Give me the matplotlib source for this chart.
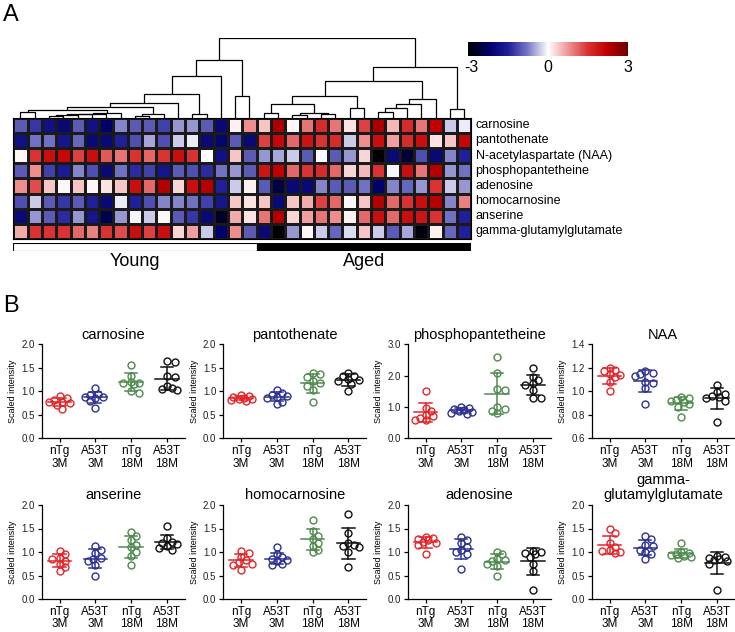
import numpy as np
import matplotlib
matplotlib.use('Agg')
import matplotlib.pyplot as plt
from matplotlib.colors import LinearSegmentedColormap
from matplotlib.patches import Rectangle

plt.rcParams['font.family'] = ['Liberation Sans', 'DejaVu Sans']

# ---------------- data: heatmap ----------------
metabolites = ['carnosine', 'pantothenate', 'N-acetylaspartate (NAA)', 'phosphopantetheine',
               'adenosine', 'homocarnosine', 'anserine', 'gamma-glutamylglutamate']

carnosine_z = [-1.0, -1.3, -1.8, -2.0, -1.0, -1.8, -2.2, -0.7, -1.0, -1.0, -1.2, -0.6, -0.6, -1.0, -2.0, 0.1, 0.8,
               0.4, 2.4, 0.05, 1.0, 1.6, 1.0, 0.2, 1.4, 2.4, 0.5, 1.6, 1.0, 2.2, -0.3, -0.1]
pantothenate_z = [-1.8, -0.8, -0.8, -1.7, -0.9, -2.0, -2.0, -1.5, -1.1, -0.5, -1.1, -0.3, -0.1, -2.0, -2.1, -1.0, -2.0,
                  1.4, 2.1, 1.1, 1.9, 1.5, 1.6, -0.3, 0.8, 2.0, 0.7, 1.6, 2.0, 0.2, 0.4, 2.1]
naa_z = [0.05, 1.5, 2.0, 2.1, 1.4, 2.0, 1.2, 1.0, 1.5, 1.1, 1.5, 2.0, 1.5, 0.0, -1.8, 0.4, -1.0,
         -0.6, -0.5, -0.3, -1.0, 0.0, -1.0, -0.6, 0.3, -3.0, -2.0, -2.6, -1.1, -2.0, -0.7, -1.5]
phospho_z = [-1.0, 0.8, -1.2, -1.6, -0.7, -1.1, -2.0, -0.8, -1.4, -1.2, -1.7, -1.0, -1.1, -1.4, -0.8, -0.6, -1.0,
             1.9, 2.2, 1.1, 1.5, 1.6, 1.1, 0.3, 0.5, 1.5, -0.05, 2.0, 1.0, 2.3, -0.6, -0.8]
adenosine_z = [0.8, 1.3, 0.4, 0.05, 0.4, 0.05, 0.2, 0.4, 2.0, 1.1, 2.3, 0.3, 2.0, 2.3, -1.5, -0.3, 0.1,
               -1.0, -2.5, -2.0, -2.0, -0.7, -1.0, -1.0, -0.8, -2.2, -0.7, -0.9, -0.6, 1.5, -0.3, -0.6]
homocarnosine_z = [-1.1, -0.3, -1.0, -1.3, -1.0, -1.5, -2.0, -0.1, -1.5, -1.1, -0.7, -0.7, -0.8, -1.2, -1.7, 0.4, 0.2,
                   0.4, -2.0, 0.4, 0.6, 1.4, 1.1, 0.05, 0.4, 2.3, 1.1, 1.5, 2.0, 2.3, -0.7, 0.9]
anserine_z = [-2.0, -0.6, -1.0, -1.4, -0.6, -1.7, -2.4, -0.6, -0.05, -0.3, 0.05, -1.0, -1.3, -2.0, -2.7, 0.6, 0.2,
              1.0, 2.3, 0.3, 0.7, 1.0, 0.8, 0.1, 1.1, 2.0, 1.1, 2.0, 1.9, 1.5, -0.8, -1.5]
gamma_z = [0.6, 1.5, 1.5, 1.5, 1.1, 0.9, 1.5, 1.3, 2.0, 1.4, 2.0, 0.3, 0.7, -0.3, -2.2, 0.8, -1.0,
           -2.0, -3.0, -0.6, 0.05, -0.3, -0.9, -0.2, 0.4, -0.3, -1.0, -0.5, -2.9, 0.1, -0.9, -1.5]

# dendrogram merges: (left, right, height); leaves are column indices
young_y = (((((2, 3, 2.0), 4, 2.5), 5, 3.5), 6, 4.2), 7, 5.0)
young_b = (((0, 1, 5.7), young_y, 7.7), ((8, 9, 2.0), 10, 3.5), 11.0)
young_l = ((((young_b, 11, 14.4), (12, 13, 4.0), 23.4), 14, 42.0), (15, 16, 21.4), 57.4)
aged_a = (((17, 18, 4.4), ((19, 20, 3.0), (21, 22, 3.5), 5.0), 13.4), (23, 24, 9.4), 21.7)
aged_b = ((((25, 26, 5.4), 27, 9.4), 28, 13.4), 29, 19.0)
aged_r = ((aged_a, aged_b, 37.0), (30, 31, 8.7), 50.4)
dendro_tree = (young_l, aged_r, 79.4)

group_bar_labels = ['Young', 'Aged']
group_bar_counts = [17, 15]
cbar_ticks = [-3, 0, 3]

# ---------------- data: scatter panels ----------------
groups = ['nTg\n3M', 'A53T\n3M', 'nTg\n18M', 'A53T\n18M']
panel_titles = ['carnosine', 'pantothenate', 'phosphopantetheine', 'NAA',
                'anserine', 'homocarnosine', 'adenosine', 'gamma-\nglutamylglutamate']

carnosine_vals = [[0.89, 0.86, 0.82, 0.78, 0.78, 0.75, 0.70, 0.63],
                  [1.06, 0.95, 0.92, 0.88, 0.87, 0.85, 0.80, 0.65],
                  [1.57, 1.32, 1.20, 1.18, 1.17, 1.16, 1.00, 0.97],
                  [1.64, 1.63, 1.32, 1.30, 1.12, 1.06, 1.05, 1.03]]
pantothenate_vals = [[0.92, 0.90, 0.88, 0.86, 0.84, 0.83, 0.81, 0.80],
                     [1.03, 0.97, 0.93, 0.90, 0.88, 0.86, 0.78, 0.73],
                     [1.39, 1.37, 1.30, 1.22, 1.18, 1.12, 1.02, 0.78],
                     [1.38, 1.33, 1.32, 1.26, 1.25, 1.22, 1.15, 1.00]]
phospho_vals = [[1.50, 0.98, 0.88, 0.75, 0.70, 0.65, 0.60, 0.57],
                [1.00, 0.98, 0.95, 0.90, 0.87, 0.85, 0.80, 0.78],
                [2.58, 2.08, 1.58, 1.55, 1.00, 0.95, 0.88, 0.80],
                [2.25, 1.95, 1.85, 1.75, 1.70, 1.55, 1.30, 1.30]]
naa_vals = [[1.20, 1.18, 1.17, 1.15, 1.14, 1.12, 1.08, 1.00],
            [1.17, 1.16, 1.15, 1.13, 1.08, 1.07, 1.03, 0.89],
            [0.95, 0.94, 0.93, 0.92, 0.91, 0.89, 0.87, 0.78],
            [1.05, 0.99, 0.98, 0.96, 0.95, 0.94, 0.92, 0.74]]
anserine_vals = [[1.02, 0.95, 0.88, 0.85, 0.80, 0.75, 0.68, 0.60],
                 [1.12, 1.05, 0.97, 0.88, 0.85, 0.80, 0.72, 0.50],
                 [1.43, 1.35, 1.25, 1.15, 1.10, 1.00, 0.92, 0.72],
                 [1.55, 1.30, 1.22, 1.20, 1.18, 1.12, 1.08, 1.05]]
homocarnosine_vals = [[1.02, 0.98, 0.90, 0.82, 0.78, 0.75, 0.72, 0.62],
                      [1.10, 0.95, 0.90, 0.85, 0.82, 0.80, 0.75, 0.72],
                      [1.68, 1.45, 1.35, 1.28, 1.20, 1.12, 1.05, 1.00],
                      [1.80, 1.40, 1.20, 1.15, 1.12, 1.10, 1.00, 0.68]]
adenosine_vals = [[1.32, 1.30, 1.28, 1.25, 1.22, 1.20, 1.15, 0.95],
                  [1.32, 1.25, 1.20, 1.10, 1.05, 1.00, 0.95, 0.63],
                  [1.00, 0.95, 0.85, 0.82, 0.80, 0.75, 0.70, 0.50],
                  [1.02, 1.00, 0.98, 0.95, 0.90, 0.75, 0.60, 0.20]]
gamma_vals = [[1.48, 1.40, 1.20, 1.10, 1.05, 1.02, 1.00, 0.98],
              [1.35, 1.28, 1.15, 1.12, 1.05, 1.00, 0.95, 0.85],
              [1.20, 1.00, 0.98, 0.95, 0.93, 0.92, 0.90, 0.88],
              [0.92, 0.90, 0.88, 0.85, 0.82, 0.80, 0.75, 0.20]]

panel_ylims = [(0, 2.0), (0, 2.0), (0, 3.0), (0.6, 1.4), (0, 2.0), (0, 2.0), (0, 2.0), (0, 2.0)]
panel_yticks = [np.arange(0, 2.01, 0.5), np.arange(0, 2.01, 0.5), np.arange(0, 3.01, 1.0),
                np.arange(0.6, 1.41, 0.2), np.arange(0, 2.01, 0.5), np.arange(0, 2.01, 0.5),
                np.arange(0, 2.01, 0.5), np.arange(0, 2.01, 0.5)]

# ---------------- figure ----------------
W, H = 735, 632
fig = plt.figure(figsize=(W / 100, H / 100), dpi=100)


def rect(x0, y0, x1, y1):
    return [x0 / W, 1 - y1 / H, (x1 - x0) / W, (y1 - y0) / H]


cmap = LinearSegmentedColormap.from_list('bwr_k', [
    (0.0, (0, 0, 0)),
    (0.8 / 6, (0.0, 0.0, 0.42)),
    (1.5 / 6, (0.12, 0.12, 0.6)),
    (2.2 / 6, (0.45, 0.45, 0.76)),
    (0.5, (1, 1, 1)),
    (3.8 / 6, (0.93, 0.56, 0.56)),
    (4.5 / 6, (0.85, 0.2, 0.2)),
    (5.2 / 6, (0.76, 0.0, 0.0)),
    (1.0, (0.42, 0.0, 0.0))])

heat = np.array([carnosine_z, pantothenate_z, naa_z, phospho_z,
                 adenosine_z, homocarnosine_z, anserine_z, gamma_z])
ncol = heat.shape[1]
hx0, hx1 = 13.3, 471.3
ax_h = fig.add_axes(rect(hx0, 117.7, hx1, 239))
ax_h.pcolormesh(np.arange(ncol + 1), np.arange(len(metabolites) + 1), heat, cmap=cmap, vmin=-3, vmax=3,
                edgecolors='#1a1a1a', linewidth=0.8)
ax_h.set_xlim(0, ncol)
ax_h.set_ylim(len(metabolites), 0)
ax_h.set_xticks([])
ax_h.set_yticks([])
for s in ax_h.spines.values():
    s.set_linewidth(0.8)
for i, m in enumerate(metabolites):
    ax_h.text(ncol + 0.3, i + 0.5, m, va='center', ha='left', fontsize=9)

# dendrogram
ax_d = fig.add_axes(rect(hx0, 38.0, hx1, 117.7))
ax_d.set_xlim(0, ncol)
ax_d.set_ylim(0, 79.7)
ax_d.axis('off')


def draw(node):
    if isinstance(node, int):
        return node + 0.5, 0.0
    l, r, h = node
    xl, hl = draw(l)
    xr, hr = draw(r)
    ax_d.plot([xl, xl, xr, xr], [hl, h, h, hr], color='black', lw=0.9, solid_capstyle='butt')
    return (xl + xr) / 2, h


draw(dendro_tree)

# young / aged bar
ax_b = fig.add_axes(rect(hx0, 242.7, hx1, 251))
ax_b.set_xlim(0, ncol)
ax_b.set_ylim(0, 1)
ax_b.axis('off')
start = 0
for lab, cnt, fc in zip(group_bar_labels, group_bar_counts, ['white', 'black']):
    ax_b.add_patch(Rectangle((start, 0), cnt, 1, facecolor=fc, edgecolor='black', lw=0.8))
    fig.text((hx0 + (start + cnt / 2) / ncol * (hx1 - hx0)) / W, 1 - 262 / H, lab,
             ha='center', va='center', fontsize=13)
    start += cnt

# colorbar
ax_c = fig.add_axes(rect(468.3, 41.7, 627.7, 56))
ax_c.imshow(np.linspace(-3, 3, 256)[None, :], aspect='auto', cmap=cmap, vmin=-3, vmax=3,
            extent=[-3, 3, 0, 1])
ax_c.axis('off')
for t in cbar_ticks:
    fig.text((468.3 + (t + 3) / 6 * (627.7 - 468.3)) / W + (0.004 if t == -3 else 0), 1 - 68 / H,
             str(t), ha='center', va='center', fontsize=11.5)

fig.text(3 / W, 1 - 15 / H, 'A', fontsize=17, ha='left', va='center')
fig.text(3 / W, 1 - 306 / H, 'B', fontsize=17, ha='left', va='center')

# ---------------- scatter panels ----------------
colors = ['#e3262b', '#2e3192', '#4f8a4f', '#111111']
all_vals = [carnosine_vals, pantothenate_vals, phospho_vals, naa_vals,
            anserine_vals, homocarnosine_vals, adenosine_vals, gamma_vals]
lefts = [41.7, 223.3, 407.7, 591.7]
axw = 143
row_tb = [(344.3, 438.3), (505.0, 599.0)]


def swarm(vals, ylo, yhi, xpx=35.75, ypx=94.0, d=5.6, step=2.6, kmax=4):
    placed = []
    offs = np.zeros(len(vals))
    order = np.argsort(vals)[::-1]
    ks = [0]
    for k in range(1, kmax + 1):
        ks += [k, -k]
    for i in order:
        y = (vals[i] - ylo) / (yhi - ylo) * ypx
        best, bestd = 0.0, -1
        for k in ks:
            x = k * step
            md = min([np.hypot(x - px, y - py) for px, py in placed] + [1e9])
            if md >= d:
                best = x
                break
            if md > bestd:
                best, bestd = x, md
        placed.append((best, y))
        offs[i] = best / xpx
    return offs


for p in range(8):
    r, c = divmod(p, 4)
    top, bot = row_tb[r]
    ax = fig.add_axes(rect(lefts[c], top, lefts[c] + axw, bot))
    ylo, yhi = panel_ylims[p]
    for g in range(4):
        v = np.array(all_vals[p][g])
        offs = swarm(v, ylo, yhi)
        ax.plot(g + offs, v, 'o', mfc='none', mec=colors[g], mew=1.0, ms=5.0, zorder=3)
        m, sd = v.mean(), v.std(ddof=1)
        ax.plot([g - 0.33, g + 0.33], [m, m], color=colors[g], lw=1.1, zorder=4)
        ax.plot([g, g], [m - sd, m + sd], color=colors[g], lw=1.1, zorder=4)
        for yy in (m - sd, m + sd):
            ax.plot([g - 0.17, g + 0.17], [yy, yy], color=colors[g], lw=1.1, zorder=4)
    ax.set_xlim(-0.5, 3.5)
    ax.set_ylim(ylo, yhi)
    ax.set_yticks(panel_yticks[p])
    ax.set_yticklabels(['%.1f' % t for t in panel_yticks[p]], fontsize=7, color='#222')
    ax.set_xticks(range(4))
    ax.set_xticklabels(groups, fontsize=8.5, linespacing=1.05)
    ax.spines['top'].set_visible(False)
    ax.spines['right'].set_visible(False)
    for s in ('left', 'bottom'):
        ax.spines[s].set_linewidth(0.9)
    ax.tick_params(axis='both', length=3, width=0.9, pad=2)
    ax.set_ylabel('Scaled intensity', fontsize=6.5, labelpad=3)
    ax.set_title(panel_titles[p], fontsize=10.5, pad=4, linespacing=1.15)

fig.savefig('out.png', dpi=100)
